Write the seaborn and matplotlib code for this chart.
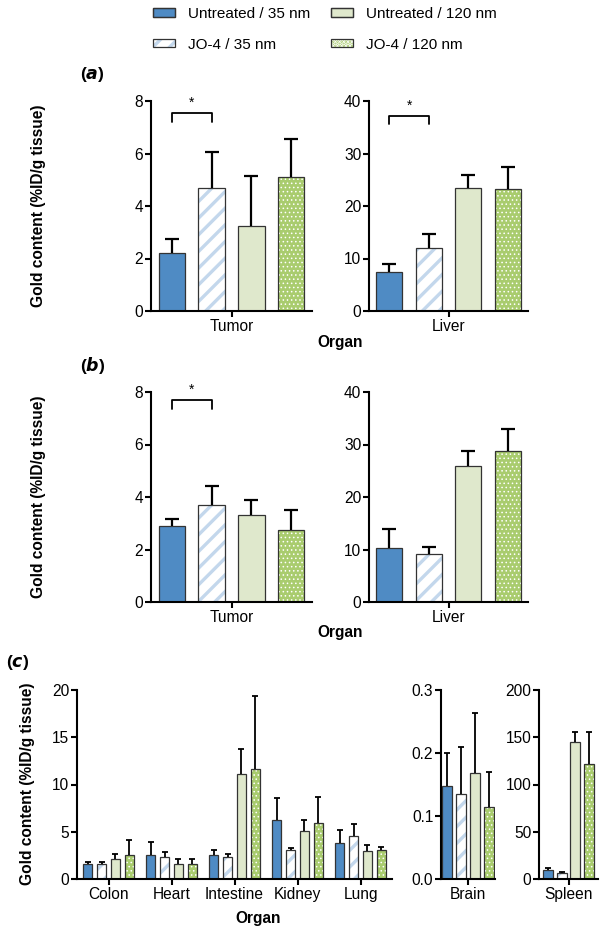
import numpy as np
import pandas as pd
import seaborn as sns
import matplotlib.pyplot as plt
from matplotlib.patches import Rectangle
from matplotlib.legend_handler import HandlerTuple

# groups (hue levels) in legend order
groups = ["Untreated / 35 nm", "JO-4 / 35 nm", "Untreated / 120 nm", "JO-4 / 120 nm"]
colors = ["#4f8bc4", "#ffffff", "#dfe8cc", "#a9cc6e"]

# panel (a) - means and upper SD per group
a_tumor = [2.2, 4.7, 3.25, 5.12]
a_tumor_err = [0.55, 1.36, 1.9, 1.43]
a_liver = [7.5, 12.0, 23.4, 23.2]
a_liver_err = [1.5, 2.7, 2.6, 4.2]

# panel (b)
b_tumor = [2.9, 3.68, 3.33, 2.76]
b_tumor_err = [0.27, 0.73, 0.57, 0.73]
b_liver = [10.3, 9.1, 25.9, 28.8]
b_liver_err = [3.6, 1.4, 2.8, 4.2]

# panel (c) - other organs, one list per group
c_organs = ["Colon", "Heart", "Intestine", "Kidney", "Lung"]
c_u35 = [1.58, 2.5, 2.5, 6.23, 3.84]
c_j35 = [1.62, 2.32, 2.32, 3.06, 4.54]
c_u120 = [2.15, 1.58, 11.06, 5.07, 2.92]
c_j120 = [2.5, 1.58, 11.69, 5.92, 3.03]
c_u35_err = [0.18, 1.37, 0.53, 2.37, 1.36]
c_j35_err = [0.18, 0.53, 0.32, 0.24, 1.31]
c_u120_err = [0.45, 0.57, 2.74, 1.2, 0.64]
c_j120_err = [1.58, 0.5, 7.68, 2.81, 0.32]

brain = [0.148, 0.135, 0.169, 0.115]
brain_err = [0.052, 0.074, 0.094, 0.055]
spleen = [9.2, 6.0, 145, 122]
spleen_err = [2.4, 1.0, 11, 34]

# significance brackets: (bracket top, leg bottom)
a_tumor_sig = (7.56, 7.2)
a_liver_sig = (37.2, 35.6)
b_tumor_sig = (7.7, 7.35)

FONT = "Liberation Sans"
FS = 11.2
EDGE = "#333333"
STRIPE = "#c3d7ec"


def style_patch(p, gi):
    # hatched groups: pattern only, outline is drawn separately
    if gi == 1:
        p.set_facecolor("white")
        p.set_edgecolor(STRIPE)
        p.set_hatch("//")
        p.set_linewidth(0)
        if hasattr(p, "set_hatch_linewidth"):
            p.set_hatch_linewidth(2.4)
    elif gi == 3:
        p.set_facecolor(colors[3])
        p.set_edgecolor("white")
        p.set_hatch("....")
        p.set_linewidth(0)
        if hasattr(p, "set_hatch_linewidth"):
            p.set_hatch_linewidth(0.6)


def make_df(organs, values, errs):
    rows = []
    for gi, g in enumerate(groups):
        for oi, o in enumerate(organs):
            rows.append({"organ": o, "group": g, "value": values[gi][oi], "err": errs[gi][oi]})
    return pd.DataFrame(rows)


def draw_panel(ax, organs, values, errs, ylim, yticks, width, gap, capsize, lw, sig=None):
    df = make_df(organs, values, errs)
    sns.barplot(data=df, x="organ", y="value", hue="group", hue_order=groups,
                order=organs, palette=colors, saturation=1, width=width, gap=gap,
                errorbar=None, legend=False, edgecolor=EDGE, linewidth=0.9, ax=ax)
    n = len(organs)
    centers = {}
    bar_conts = list(ax.containers)
    for gi, cont in enumerate(bar_conts):
        xs, hs, es = [], [], []
        for p in cont.patches:
            cx = p.get_x() + p.get_width() / 2
            oi = int(round(cx))
            xs.append(cx)
            hs.append(p.get_height())
            es.append(errs[gi][oi])
            centers[(gi, oi)] = cx
            style_patch(p, gi)
            if gi in (1, 3):
                ax.add_patch(Rectangle((p.get_x(), p.get_y()), p.get_width(), p.get_height(),
                                       fill=False, edgecolor=EDGE, linewidth=0.9, zorder=2))
        eb = ax.errorbar(xs, hs, yerr=[np.zeros(len(es)), es], fmt="none", ecolor="black",
                         elinewidth=lw, capsize=capsize, capthick=lw, zorder=3)
        eb[1][0].set_visible(False)
    ax.set_xlim(-0.5, n - 0.5)
    ax.set_ylim(*ylim)
    ax.set_yticks(yticks)
    ax.set_xlabel("")
    ax.set_ylabel("")
    sns.despine(ax=ax)
    for s in ["left", "bottom"]:
        ax.spines[s].set_linewidth(1.5)
        ax.spines[s].set_color("black")
    ax.tick_params(axis="both", width=1.5, length=4, labelsize=FS, pad=1.5,
                   color="black", labelcolor="black")
    for t in ax.get_xticklabels() + ax.get_yticklabels():
        t.set_fontfamily(FONT)
    if sig is not None:
        top, leg = sig
        x0, x1 = centers[(0, 0)], centers[(1, 0)]
        ax.plot([x0, x0, x1, x1], [leg, top, top, leg], color="black", lw=1.3, clip_on=False)
        ax.text((x0 + x1) / 2, top + (ylim[1] - ylim[0]) * 0.015, "*", ha="center", va="bottom",
                fontsize=10, family=FONT)


sns.set_theme(style="ticks")
plt.rcParams["hatch.linewidth"] = 2.4
plt.rcParams["font.family"] = [FONT, "DejaVu Sans"]
plt.rcParams["text.color"] = "black"

W, H = 604, 939
fig = plt.figure(figsize=(W / 100, H / 100), dpi=100)


def px_axes(x0, x1, y0, y1):
    return fig.add_axes([x0 / W, 1 - y1 / H, (x1 - x0) / W, (y1 - y0) / H])


def col(v):
    return [[x] for x in v]


ax_a1 = px_axes(151, 312, 101, 311)
draw_panel(ax_a1, ["Tumor"], col(a_tumor), col(a_tumor_err), (0, 8), [0, 2, 4, 6, 8],
           0.99, 0.34, 5, 1.6, a_tumor_sig)
ax_a2 = px_axes(369, 528, 101, 311)
draw_panel(ax_a2, ["Liver"], col(a_liver), col(a_liver_err), (0, 40), [0, 10, 20, 30, 40],
           0.99, 0.34, 5, 1.6, a_liver_sig)
ax_b1 = px_axes(151, 312, 392, 602)
draw_panel(ax_b1, ["Tumor"], col(b_tumor), col(b_tumor_err), (0, 8), [0, 2, 4, 6, 8],
           0.99, 0.34, 5, 1.6, b_tumor_sig)
ax_b2 = px_axes(369, 528, 392, 602)
draw_panel(ax_b2, ["Liver"], col(b_liver), col(b_liver_err), (0, 40), [0, 10, 20, 30, 40],
           0.99, 0.34, 5, 1.6)

ax_c1 = px_axes(77, 392, 690, 879)
draw_panel(ax_c1, c_organs, [c_u35, c_j35, c_u120, c_j120],
           [c_u35_err, c_j35_err, c_u120_err, c_j120_err], (0, 20), [0, 5, 10, 15, 20],
           0.88, 0.32, 2, 1.3)
ax_c2 = px_axes(441, 495, 690, 879)
draw_panel(ax_c2, ["Brain"], col(brain), col(brain_err), (0, 0.3), [0.0, 0.1, 0.2, 0.3],
           1.03, 0.30, 2, 1.3)
ax_c2.set_yticklabels(["0.0", "0.1", "0.2", "0.3"])
ax_c3 = px_axes(539, 598, 690, 879)
draw_panel(ax_c3, ["Spleen"], col(spleen), col(spleen_err), (0, 200), [0, 50, 100, 150, 200],
           0.93, 0.27, 2, 1.3)

# y labels
ylab = "Gold content (%ID/g tissue)"
fig.text(39 / W, 1 - 206 / H, ylab, rotation=90, ha="center", va="center",
         fontsize=FS, fontweight="bold")
fig.text(39 / W, 1 - 497 / H, ylab, rotation=90, ha="center", va="center",
         fontsize=FS, fontweight="bold")
fig.text(28 / W, 1 - 784 / H, ylab, rotation=90, ha="center", va="center",
         fontsize=FS, fontweight="bold")

# x labels
fig.text(340 / W, 1 - 342 / H, "Organ", ha="center", va="center", fontsize=FS, fontweight="bold")
fig.text(340 / W, 1 - 633 / H, "Organ", ha="center", va="center", fontsize=FS, fontweight="bold")
fig.text(258 / W, 1 - 919 / H, "Organ", ha="center", va="center", fontsize=FS, fontweight="bold")

# panel letters
for x, y, letter in [(80, 75, "a"), (80, 365, "b"), (6, 663, "c")]:
    fig.text(x / W, 1 - y / H, r"($\bfit{" + letter + r"}$)", ha="left", va="center",
             fontsize=12.5, fontweight="bold")

# legend: pattern patch with an outline patch on top
handles = []
for gi, g in enumerate(groups):
    fill = Rectangle((0, 0), 1, 1, facecolor=colors[gi], edgecolor=EDGE, linewidth=0.9)
    style_patch(fill, gi)
    outline = Rectangle((0, 0), 1, 1, fill=False, edgecolor=EDGE, linewidth=0.9)
    handles.append((fill, outline))
fig.legend(handles, groups, ncol=2, loc="upper center", bbox_to_anchor=(325 / W, 1 + 7 / H),
           frameon=False, fontsize=11, handlelength=1.45, handleheight=0.5,
           handletextpad=0.85, columnspacing=1.37, labelspacing=1.1,
           handler_map={tuple: HandlerTuple(ndivide=1, pad=0)})

fig.savefig("out.png", dpi=100)
